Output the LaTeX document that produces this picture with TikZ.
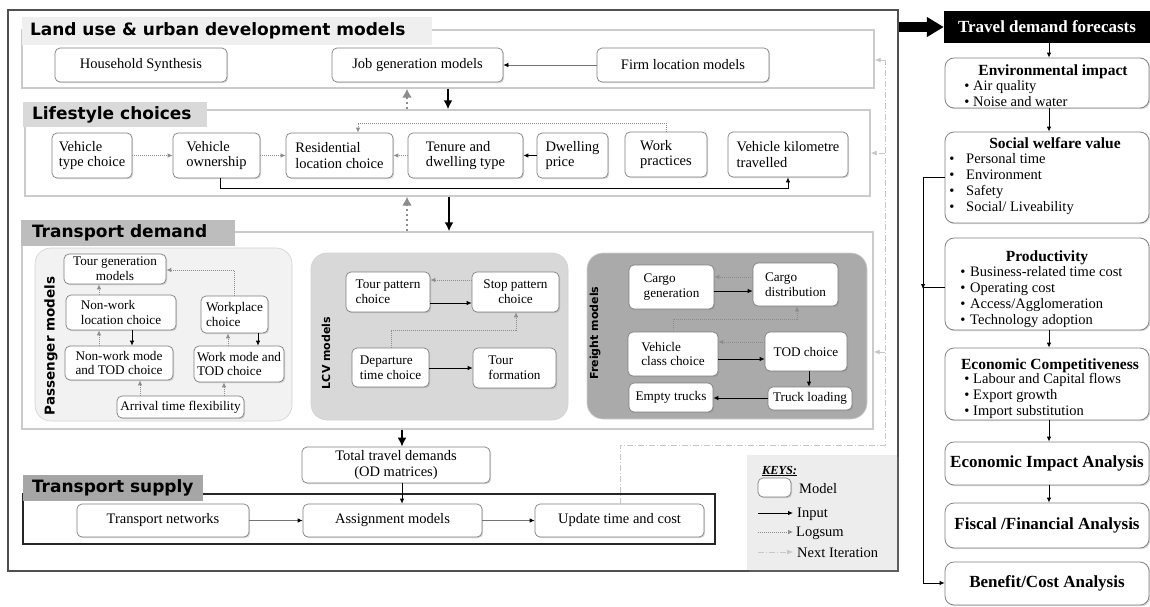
\documentclass[tikz,border=0pt]{standalone}
\usepackage{fontspec}
\setmainfont{Liberation Serif}
\setsansfont{DejaVu Sans}
\usetikzlibrary{arrows.meta,shadows}
\definecolor{framec}{HTML}{505050}
\definecolor{secc}{HTML}{CBCBCB}
\definecolor{tA}{HTML}{EFEFEF}
\definecolor{tB}{HTML}{D9D9D9}
\definecolor{tC}{HTML}{BDBDBD}
\definecolor{tD}{HTML}{A6A6A6}
\definecolor{pfill}{HTML}{F2F2F2}
\definecolor{lfill}{HTML}{D8D8D8}
\definecolor{ffill}{HTML}{AAAAAA}
\definecolor{nodeline}{HTML}{7F7F7F}
\definecolor{keyfill}{HTML}{EDEDED}
\newcommand{\bx}[7][]{\node[#1,minimum width={#5pt-#3pt},minimum height={#6pt-#4pt}] (#2) at ({(#3+#5)/2},{(#4+#6)/2}) {#7};}
\newcommand{\blist}[4]{\foreach \t [count=\i from 0] in {#4}{\node[itemf,anchor=base] at ({#1},{#3+16.3*\i}) {\textbullet}; \node[itemf,anchor=base west] at ({#2},{#3+16.3*\i}) {\t};}}
\begin{document}
\begin{tikzpicture}[x=1pt,y=-1pt,
  mbox/.style={draw=nodeline, fill=white, rounded corners=5pt, line width=0.7pt, inner sep=1.5pt, align=left,
    font=\fontsize{14.5}{15.5}\selectfont, drop shadow={shadow xshift=1.2pt, shadow yshift=-1.2pt, opacity=0.3}},
  dbox/.style={mbox, font=\fontsize{13.2}{14.8}\selectfont},
  rbox/.style={draw=nodeline, fill=white, rounded corners=9pt, line width=0.8pt,
    drop shadow={shadow xshift=1.2pt, shadow yshift=-1.2pt, opacity=0.3}},
  bigtxt/.style={font=\bfseries\fontsize{17}{20}\selectfont},
  secbox/.style={draw=secc, line width=1.4pt},
  ttlbox/.style={draw=none, inner sep=0pt},
  ttl/.style={font=\sffamily\bfseries\fontsize{17}{20}\selectfont, inner sep=0pt, anchor=west},
  grp/.style={draw=black!18, line width=0.6pt, rounded corners=16pt},
  glab/.style={rotate=90, font=\sffamily\bfseries\fontsize{11}{13}\selectfont, inner sep=0pt},
  inarr/.style={-{Latex[length=5pt,width=4.5pt]}, line width=0.8pt, draw=black},
  logarr/.style={-{Latex[length=5pt,width=4.5pt]}, line width=0.8pt, draw=black!45, dash pattern=on 1pt off 1pt},
  darr/.style={-{Latex[length=5pt,width=4.5pt,color=black]}, line width=0.7pt, draw=black!55},
  nextline/.style={line width=0.8pt, draw=black!22, dash pattern=on 6pt off 2pt on 1pt off 2pt},
  nextarr/.style={nextline, -{Latex[length=6pt,width=5pt]}},
  bigin/.style={-{Latex[length=9pt,width=9pt]}, line width=2.4pt, draw=black},
  biglog/.style={-{Latex[length=9pt,width=10pt]}, line width=2.8pt, draw=black!45, dash pattern=on 2.5pt off 2.5pt},
  itemf/.style={font=\fontsize{14.5}{16}\selectfont, inner sep=0pt},
  hdf/.style={font=\bfseries\fontsize{15.5}{17}\selectfont, inner sep=0pt, anchor=base},
  kt/.style={font=\fontsize{14.5}{16}\selectfont, inner sep=0pt, anchor=west}
]
\useasboundingbox (0,0) rectangle (1150,606);

% outer frame
\bx[draw=framec, line width=2pt]{outer}{8}{10}{898}{571}{}

% sections
\bx[secbox]{landsec}{22}{30}{874}{88}{}
\bx[secbox]{lifesec}{25}{110}{870}{196}{}
\bx[secbox]{demsec}{22}{232}{873}{429}{}
\bx[draw=black!85, line width=1.2pt]{supsec}{23}{494}{715}{544}{}

\bx[ttlbox, fill=tA]{landT}{22}{17}{432}{45}{}
\bx[ttlbox, fill=tB]{lifeT}{23}{102}{207}{127}{}
\bx[ttlbox, fill=tC]{demT}{21}{220}{235}{246}{}
\bx[ttlbox, fill=tD]{supT}{23}{475}{203}{501}{}
\node[ttl] at ([xshift=8pt]landT.west) {Land use \& urban development models};
\node[ttl] at ([xshift=9pt]lifeT.west) {Lifestyle choices};
\node[ttl] at ([xshift=11pt]demT.west) {Transport demand};
\node[ttl] at ([xshift=9pt]supT.west) {Transport supply};

% land use
\bx[mbox]{hh}{55}{48}{227}{82}{Household Synthesis}
\bx[mbox]{job}{332}{48}{503}{82}{Job generation models}
\bx[mbox]{firm}{597}{48}{769}{82}{Firm location models}
\draw[darr] (firm) -- (job);

% lifestyle
\bx[mbox]{vtc}{52}{133}{132}{178}{Vehicle\\type choice}
\bx[mbox]{vown}{173}{133}{260}{178}{Vehicle\\ownership}
\bx[mbox]{res}{286}{133}{393}{178}{Residential\\location choice}
\bx[mbox]{ten}{408}{133}{523}{178}{Tenure and\\dwelling type}
\bx[mbox]{dwp}{537}{133}{608}{178}{Dwelling\\price}
\bx[mbox]{wkp}{625}{132}{707}{177}{Work\\practices}
\bx[mbox]{vkt}{728}{132}{848}{177}{Vehicle kilometre\\travelled}
\draw[logarr] (vtc) -- (vown);
\draw[logarr] (vown) -- (res);
\draw[logarr] (ten) -- (res);
\draw[inarr] (dwp) -- (ten);
\draw[logarr] (wkp.north) -- (wkp.north |- 0,123) -- (358,123) -- (res.north -| 358,0);
\draw[inarr] (vown.south -| 220,0) -- (220,188) -- (788,188) -- (vkt.south -| 788,0);

% between sections
\draw[bigin] (landsec.south -| 448,0) -- (lifesec.north -| 448,0);
\draw[biglog] (lifesec.north -| 407,0) -- (landsec.south -| 407,0);
\draw[bigin] (lifesec.south -| 449,0) -- (demsec.north -| 449,0);
\draw[biglog] (demsec.north -| 407,0) -- (lifesec.south -| 407,0);

% groups
\bx[grp, fill=pfill]{pgrp}{35}{248}{292}{421}{}
\bx[grp, fill=lfill]{lgrp}{311}{253}{568}{420}{}
\bx[grp, fill=ffill]{fgrp}{587}{253}{867}{419}{}
\node[glab, font=\sffamily\bfseries\fontsize{13.5}{15}\selectfont] (plab) at (51,346) {Passenger models};
\node[glab] (llab) at (326,353) {LCV models};
\node[glab] (flab) at (595,333) {Freight models};

% passenger
\bx[dbox, align=center]{tg}{64}{254}{166}{284}{Tour generation\\models}
\bx[dbox]{nwl}{66}{295}{176}{330}{Non-work\\location choice}
\bx[dbox]{wpc}{201}{296}{268}{333}{Workplace\\choice}
\bx[dbox]{nwm}{65}{346}{173}{380}{Non-work mode\\and TOD choice}
\bx[dbox]{wmt}{194}{346}{284}{382}{Work mode and\\TOD choice}
\bx[dbox]{atf}{117}{396}{244}{418}{Arrival time flexibility}
\draw[logarr] (nwl.north -| 99,0) -- (tg.south -| 99,0);
\draw[logarr] (nwm.north -| 99,0) -- (nwl.south -| 99,0);
\draw[inarr] (nwl.south -| 132,0) -- (nwm.north -| 132,0);
\draw[logarr] (wpc.north) -- (wpc.north |- 0,270) -- (tg.east |- 0,270);
\draw[logarr] (wmt.north -| 228,0) -- (wpc.south -| 228,0);
\draw[inarr] (wpc.south -| 258,0) -- (wmt.north -| 258,0);
\draw[logarr] (atf.north -| 140,0) -- (nwm.south -| 140,0);
\draw[logarr] (atf.north -| 224,0) -- (wmt.south -| 224,0);

% LCV
\bx[dbox]{tpc}{346}{272}{430}{312}{Tour pattern\\choice}
\bx[dbox, align=center]{spc}{472}{272}{559}{312}{Stop pattern\\choice}
\bx[dbox]{dtc}{352}{348}{429}{387}{Departure\\time choice}
\bx[dbox]{tfm}{473}{348}{556}{388}{Tour\\formation}
\draw[logarr] (spc.west |- 0,280) -- (tpc.east |- 0,280);
\draw[inarr] (tpc.east |- 0,303) -- (spc.west |- 0,303);
\draw[logarr] (dtc.north -| 391,0) -- (391,330) -- (516,330) -- (spc.south -| 516,0);
\draw[inarr] (dtc.east |- 0,368) -- (tfm.west |- 0,368);

% freight
\bx[dbox]{cg}{629}{265}{714}{309}{Cargo\\generation}
\bx[dbox]{cd}{753}{263}{838}{306}{Cargo\\distribution}
\bx[dbox]{vcc}{628}{332}{718}{376}{Vehicle\\class choice}
\bx[dbox]{tod}{765}{332}{847}{371}{TOD choice}
\bx[dbox]{et}{629}{383}{713}{412}{Empty trucks}
\bx[dbox]{tl}{768}{387}{852}{410}{Truck loading}
\draw[logarr] (cd.west |- 0,277) -- (cg.east |- 0,277);
\draw[inarr] (cg.east |- 0,291) -- (cd.west |- 0,291);
\draw[logarr] (vcc.north -| 673,0) -- (673,319) -- (797,319) -- (cd.south -| 797,0);
\draw[logarr] (tod.west |- 0,342) -- (vcc.east |- 0,342);
\draw[inarr] (vcc.east |- 0,359) -- (tod.west |- 0,359);
\draw[inarr] (tod.south -| 809,0) -- (tl.north -| 809,0);
\draw[inarr] (tl.west |- 0,398) -- (et.east |- 0,398);

% total and supply
\bx[mbox, align=center]{tot}{302}{447}{490}{483}{Total travel demands\\(OD matrices)}
\draw[bigin] (demsec.south -| 402,0) -- (tot.north -| 402,0);
\bx[mbox]{tn}{77}{504}{249}{537}{Transport networks}
\bx[mbox]{am}{303}{504}{482}{537}{Assignment models}
\bx[mbox]{ut}{535}{504}{704}{537}{Update time and cost}
\draw[inarr] (tot.south -| 402,0) -- (am.north -| 402,0);
\draw[darr] (tn) -- (am);
\draw[darr] (am) -- (ut);

% next iteration
\draw[nextline] (ut.north -| 620,0) -- (620,445) -- (885,445) -- (885,60);
\draw[nextarr] (885,60) -- (landsec.east |- 0,60);
\draw[nextarr] (885,153) -- (lifesec.east |- 0,153);
\draw[nextarr] (885,352) -- (demsec.east |- 0,352);

% keys
\bx[fill=keyfill, drop shadow={shadow xshift=1.5pt, shadow yshift=-1.5pt, opacity=0.3}]{key}{747}{455}{897}{570}{}
\node[font=\bfseries\itshape\fontsize{12.3}{14}\selectfont, inner sep=0pt, anchor=base west] (keyt) at (762,474) {\underline{KEYS:}};
\bx[mbox]{keym}{758}{478}{791}{497}{}
\node[kt] (keyml) at (799,489) {Model};
\coordinate (k1a) at (758,513); \coordinate (k1b) at (793,513);
\coordinate (k2a) at (758,532); \coordinate (k2b) at (793,532);
\coordinate (k3a) at (758,552); \coordinate (k3b) at (793,552);
\draw[inarr] (k1a) -- (k1b);
\draw[logarr] (k2a) -- (k2b);
\draw[nextarr] (k3a) -- (k3b);
\node[kt] at (797,514) {Input};
\node[kt] at (796,533) {Logsum};
\node[kt] at (797,553) {Next Iteration};

% right column
\bx[fill=black, text=white, bigtxt, inner sep=0pt]{tdf}{944}{11}{1150}{43}{Travel demand forecasts}
\draw[line width=10pt, -{Triangle[length=17pt,width=19pt]}] (outer.east |- tdf.west) -- (tdf.west);

\bx[rbox]{env}{945}{58}{1149}{108}{}
\node[hdf] at (1053,75) {Environmental impact};
\blist{967}{973}{90}{Air quality,Noise and water}

\bx[rbox]{soc}{945}{132}{1149}{223}{}
\node[hdf] at (1055,148) {Social welfare value};
\blist{952}{966}{163}{Personal time,Environment,Safety,Social/ Liveability}

\bx[rbox]{prod}{945}{238}{1149}{330}{}
\node[hdf] at (1047,261) {Productivity};
\blist{963}{970}{276}{Business-related time cost,Operating cost,Access/Agglomeration,Technology adoption}

\bx[rbox]{econ}{945}{348}{1149}{420}{}
\node[hdf] at (1050,369) {Economic Competitiveness};
\blist{967}{973}{383}{Labour and Capital flows,Export growth,Import substitution}

\bx[rbox, bigtxt]{eia}{945}{442}{1149}{485}{Economic Impact Analysis}
\bx[rbox, bigtxt]{fin}{945}{503}{1149}{548}{Fiscal /Financial Analysis}
\bx[rbox, bigtxt]{bca}{945}{562}{1149}{605}{Benefit/Cost Analysis}

\draw[inarr] (tdf.south -| 1049,0) -- (env.north -| 1049,0);
\draw[inarr] (env.south -| 1049,0) -- (soc.north -| 1049,0);
\draw[inarr] (prod.south -| 1049,0) -- (econ.north -| 1049,0);
\draw[inarr] (econ.south -| 1049,0) -- (eia.north -| 1049,0);
\draw[inarr] (eia.south -| 1049,0) -- (fin.north -| 1049,0);
\draw[inarr] (soc.west |- 0,177) -- (923,177) -- (923,583) -- (bca.west |- 0,583);
\draw[line width=0.8pt] (prod.west |- 0,287) -- (923,287);
\draw[-{Latex[length=5pt,width=4.5pt]}, line width=0.8pt] (923,281) -- (923,289);
\end{tikzpicture}
\end{document}
